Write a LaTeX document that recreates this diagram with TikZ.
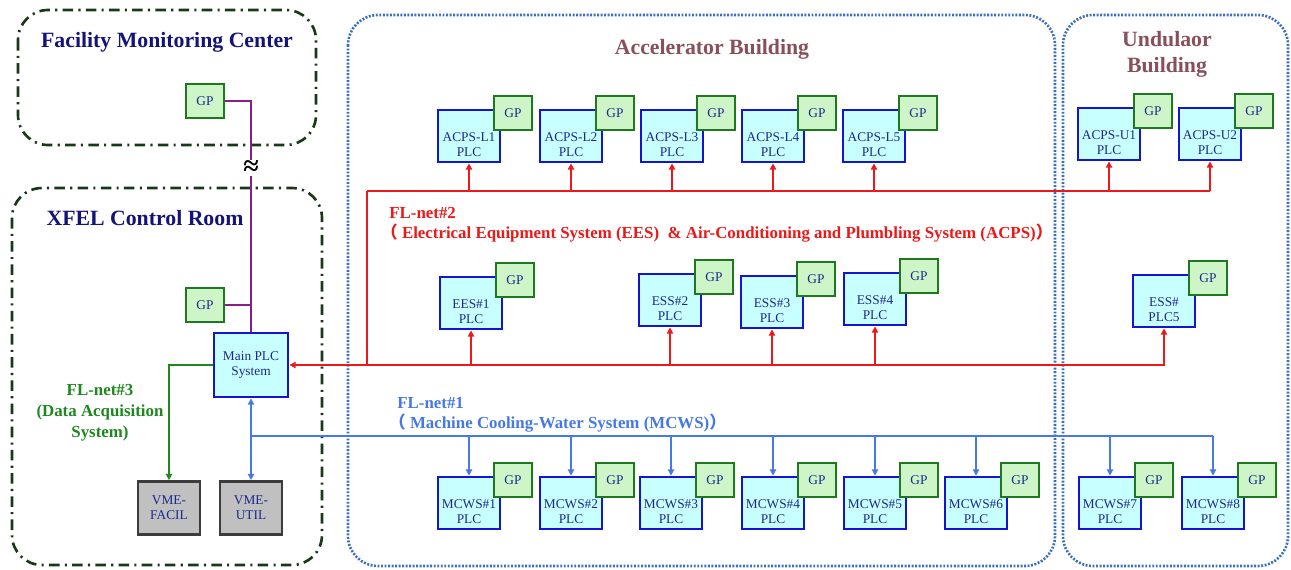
\documentclass[tikz,border=0pt]{standalone}
\usepackage{fontspec}
\setmainfont{Liberation Serif}
\newfontfamily\cjkf{Noto Sans CJK SC}
\usetikzlibrary{arrows.meta}
\definecolor{navy}{RGB}{30,40,140}
\definecolor{titlenavy}{RGB}{20,20,120}
\definecolor{plcblue}{RGB}{20,20,210}
\definecolor{plcfill}{RGB}{200,255,255}
\definecolor{gpgreen}{RGB}{30,120,30}
\definecolor{gpfill}{RGB}{205,245,200}
\definecolor{netred}{RGB}{235,25,25}
\definecolor{netblue}{RGB}{70,120,230}
\definecolor{netgreen}{RGB}{30,135,30}
\definecolor{netpurple}{RGB}{135,30,135}
\definecolor{roomgreen}{RGB}{25,55,25}
\definecolor{bldgblue}{RGB}{60,110,190}
\definecolor{bldgtitle}{RGB}{135,80,90}
\definecolor{vmefill}{RGB}{192,192,192}
\definecolor{vmeborder}{RGB}{60,60,60}
\newcommand\plcunit[4]{%
  \node[plc, label={[plctext]center:#4}] (#1) at (#2,#3) {};
  \node[gp] (#1gp) at (#2+44,#3-23) {GP};}
\begin{document}
\begin{tikzpicture}[x=0.02cm,y=-0.02cm,
  boxfont/.style={font=\fontsize{7.6}{8.6}\selectfont},
  plc/.style={draw=plcblue, fill=plcfill, line width=1.6pt, minimum width=1.24cm, minimum height=1.04cm, inner sep=0pt},
  plctext/.style={boxfont, text=navy, align=center, yshift=-0.17cm, inner sep=0pt},
  gp/.style={draw=gpgreen, fill=gpfill, line width=1.6pt, minimum width=0.76cm, minimum height=0.68cm, inner sep=0pt, boxfont, text=navy},
  mainbox/.style={draw=plcblue, fill=plcfill, line width=1.6pt, minimum width=1.48cm, minimum height=1.28cm, inner sep=0pt, boxfont, text=navy, align=center},
  vme/.style={draw=vmeborder, fill=vmefill, line width=1.6pt, minimum width=1.24cm, minimum height=1.06cm, inner sep=0pt, boxfont, text=navy, align=center},
  roombox/.style={draw=roomgreen, line width=1.5pt, rounded corners=0.6cm, dash pattern=on 6pt off 3pt on 1.2pt off 3pt},
  bldgbox/.style={draw=bldgblue, line width=1.5pt, rounded corners=0.6cm, dash pattern=on 1.1pt off 0.9pt},
  titlefont/.style={font=\bfseries\fontsize{12.4}{14.7}\selectfont},
  netlabel/.style={font=\bfseries\fontsize{9.6}{11.2}\selectfont, inner sep=0pt},
  tip/.style={-{Triangle[length=3.5pt,width=3.5pt]}},
  redline/.style={draw=netred, line width=1.1pt},
  blueline/.style={draw=netblue, line width=1.1pt},
  greenline/.style={draw=netgreen, line width=1.1pt},
  purpleline/.style={draw=netpurple, line width=1.1pt}
]
\useasboundingbox (0,0) rectangle (1291,569);

% rooms and buildings
\draw[roombox] (18,10) rectangle (316,145);
\draw[roombox] (12,188) rectangle (322,565);
\draw[bldgbox] (348,15) rectangle (1055,566);
\draw[bldgbox] (1063,15) rectangle (1288,566);

\node[titlefont, text=titlenavy] (fmct) at (167,42) {Facility Monitoring Center};
\node[titlefont, text=titlenavy] (xfelt) at (145,218) {XFEL Control Room};
\node[titlefont, text=bldgtitle] (acct) at (712,49) {Accelerator Building};
\node[titlefont, text=bldgtitle, align=center] (undt) at (1167,54) {Undulaor\\Building};

% control room
\node[gp] (gpf) at (205,101) {GP};
\node[gp] (gpx) at (205,305) {GP};
\node[mainbox] (main) at (251,365) {Main PLC\\System};
\node[vme] (vmef) at (169,508) {VME-\\FACIL};
\node[vme] (vmeu) at (251,508) {VME-\\UTIL};

% accelerator / undulator PLCs
\plcunit{L1}{469}{136}{ACPS-L1\\PLC}
\plcunit{L2}{571}{136}{ACPS-L2\\PLC}
\plcunit{L3}{672}{136}{ACPS-L3\\PLC}
\plcunit{L4}{773}{136}{ACPS-L4\\PLC}
\plcunit{L5}{874}{136}{ACPS-L5\\PLC}
\plcunit{U1}{1109}{134}{ACPS-U1\\PLC}
\plcunit{U2}{1210}{134}{ACPS-U2\\PLC}

\plcunit{E1}{471}{303}{EES\#1\\PLC}
\plcunit{E2}{670}{300}{ESS\#2\\PLC}
\plcunit{E3}{772}{302}{ESS\#3\\PLC}
\plcunit{E4}{875}{299}{ESS\#4\\PLC}
\plcunit{E5}{1164}{301}{ESS\#\\PLC5}

\plcunit{M1}{469}{503}{MCWS\#1\\PLC}
\plcunit{M2}{571}{503}{MCWS\#2\\PLC}
\plcunit{M3}{671}{503}{MCWS\#3\\PLC}
\plcunit{M4}{773}{503}{MCWS\#4\\PLC}
\plcunit{M5}{875}{503}{MCWS\#5\\PLC}
\plcunit{M6}{976}{503}{MCWS\#6\\PLC}
\plcunit{M7}{1110}{503}{MCWS\#7\\PLC}
\plcunit{M8}{1213}{503}{MCWS\#8\\PLC}

% purple link to facility monitoring
\draw[purpleline] (gpf.east) -| (main.north);
\draw[purpleline] (gpx.east) -- (gpx.east -| main.north);
\node[fill=white, inner sep=0.3pt, font=\bfseries\fontsize{16}{16}\selectfont] (brk) at (251,168) {≈};

% FL-net#2 (red)
\coordinate (rt) at (367,191);
\draw[redline] (rt) -- (U2.south |- rt);
\draw[redline] (rt) -- (rt |- main.east);
\foreach \n in {L1,L2,L3,L4,L5,U1,U2}
  \draw[redline, tip] (\n.south |- rt) -- (\n.south);
\draw[redline, {Triangle[length=3.5pt,width=3.5pt]}-{Triangle[length=3.5pt,width=3.5pt]}] (main.east) -- (E5.south |- main.east) -- (E5.south);
\foreach \n in {E1,E2,E3,E4}
  \draw[redline, tip] (\n.south |- main.east) -- (\n.south);

% FL-net#1 (blue)
\coordinate (bt) at (251,436);
\draw[blueline] (bt) -- (M8.north |- bt);
\draw[blueline, {Triangle[length=3.5pt,width=3.5pt]}-{Triangle[length=3.5pt,width=3.5pt]}] (main.south) -- (vmeu.north);
\foreach \n in {M1,M2,M3,M4,M5,M6,M7,M8}
  \draw[blueline, tip] (\n.north |- bt) -- (\n.north);

% FL-net#3 (green)
\draw[greenline, tip] (main.west) -| (vmef.north);

% labels
\node[netlabel, text=netred, anchor=north west, align=left] (fl2) at (389,207)
  {FL-net\#2\\\hspace*{-0.5em}{\cjkf （}\hspace{0.25em}Electrical Equipment System (EES)~~\& Air-Conditioning and Plumbling System (ACPS){\cjkf ）}};
\node[netlabel, text=netblue, anchor=north west, align=left] (fl1) at (397,397)
  {FL-net\#1\\\hspace*{-0.5em}{\cjkf （}\hspace{0.25em}Machine Cooling-Water System (MCWS){\cjkf ）}};
\node[netlabel, text=netgreen, align=center, font=\bfseries\fontsize{9.6}{12}\selectfont] (fl3) at (100,413)
  {FL-net\#3\\(Data Acquisition\\System)};
\end{tikzpicture}
\end{document}
